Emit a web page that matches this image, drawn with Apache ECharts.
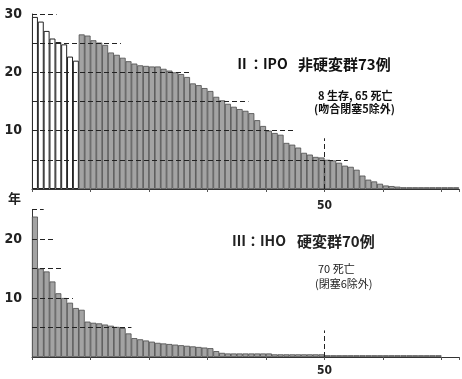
<!DOCTYPE html>
<html><head><meta charset="utf-8">
<script src="https://cdn.jsdelivr.net/npm/echarts@6/dist/echarts.min.js"></script>
<style>html,body{margin:0;padding:0;background:#fff}#c{width:462px;height:379px}</style>
</head><body><div id="c"></div>
<script>
// Panel II: IPO non-cirrhotic group, 73 cases (8 survivors first, white)
const topValues = [29.5,28.7,27.1,25.8,25.2,24.8,22.7,22.0,
  26.5,26.3,25.5,25.1,24.7,23.4,23.0,22.5,21.9,21.5,21.2,21.1,21.0,
  21.0,20.6,20.3,20.0,19.7,19.2,18.1,17.8,17.3,16.8,15.8,15.2,14.6,14.1,13.7,13.4,13.0,11.8,10.8,
  10.0,9.6,9.3,7.9,7.6,7.1,6.2,5.9,5.5,5.4,5.0,4.9,4.5,4.0,3.8,3.3,2.3,1.6,1.3,0.9,0.6,0.5,0.4,0.3,
  0.3,0.3,0.3,0.3,0.3,0.3,0.3,0.3,0.3];
const topSurvivors = 8;
// Panel III: IHO cirrhotic group, 70 cases
const bottomValues = [23.8,15.0,14.5,12.8,10.8,10.0,9.2,8.3,8.0,6.0,5.8,5.7,5.5,5.3,5.1,4.9,4.0,3.2,3.0,2.8,
  2.6,2.4,2.3,2.2,2.1,2.0,1.9,1.8,1.7,1.6,1.5,1.0,0.7,
  0.6,0.6,0.6,0.6,0.6,0.6,0.6,0.6,
  0.45,0.45,0.45,0.45,0.45,0.45,0.45,0.45,0.45,
  0.3,0.3,0.3,0.3,0.3,0.3,0.3,0.3,0.3,0.3,0.3,0.3,0.3,0.3,0.3,0.3,0.3,0.3,0.3,0.3];
const topYTickLabels = ['10','20','30'];
const bottomYTickLabels = ['10','20'];
const xTickLabels = ['50'];
// reference lines: [level, extent along x]
const topRefLines = [[30,4.2],[25,15.2],[20,27],[15,37],[10,44.7],[5,54]];
const topVRef = [50, 8.7];
const bottomRefLines = [[25,2],[20,4],[15,5],[10,7],[5,17]];
const bottomVRef = [50, 4.5];

const numFont = 'Liberation Sans Narrow, DejaVu Sans Condensed, sans-serif';
const cjk = 'Noto Sans CJK JP';

function mk(ref, vref){
  const d = ref.map(r => [{coord:[0,r[0]]},{coord:[r[1],r[0]]}]);
  d.push([{coord:[vref[0],0]},{coord:[vref[0],vref[1]]}]);
  return {symbol:'none', silent:true, label:{show:false}, animation:false,
    lineStyle:{color:'#222', type:[5,3], width:1}, data:d};
}
function xAx(gi, margin){
  return {type:'value', gridIndex:gi, min:0, max:73, interval:10,
    axisLine:{show:true, lineStyle:{color:'#333', width:1}},
    axisTick:{show:true, length:3, lineStyle:{color:'#555'}},
    splitLine:{show:false},
    axisLabel:{fontFamily:numFont, fontWeight:'bold', fontSize:12, color:'#222', margin:margin,
      formatter:v => xTickLabels.includes(String(v)) ? String(v) : ''}};
}
function yAx(gi, max, labels){
  return {type:'value', gridIndex:gi, min:0, max:max, interval:5,
    axisLine:{show:true, lineStyle:{color:'#333', width:1}},
    axisTick:{show:false}, splitLine:{show:false},
    axisLabel:{fontFamily:numFont, fontWeight:'bold', fontSize:14, color:'#222', margin:10,
      formatter:v => labels.includes(String(v)) ? String(v) : ''}};
}
const chart = echarts.init(document.getElementById('c'), null, {renderer:'canvas'});
chart.setOption({
  animation:false,
  backgroundColor:'#fff',
  grid:[{left:32, top:14, width:438, height:175},
        {left:32, top:209.5, width:438, height:147.5}],
  xAxis:[xAx(0,11), xAx(1,8)],
  yAxis:[yAx(0,30,topYTickLabels), yAx(1,25,bottomYTickLabels)],
  series:[
    {type:'bar', xAxisIndex:0, yAxisIndex:0, barWidth:6,
     data: topValues.map((v,i)=>({value:[i+0.5,v],
       itemStyle: i<topSurvivors ? {color:'#fff', borderColor:'#222', borderWidth:1}
                                 : {color:'#a3a3a3', borderColor:'#4a4a4a', borderWidth:0.8}})),
     markLine: mk(topRefLines, topVRef)},
    {type:'bar', xAxisIndex:1, yAxisIndex:1, barWidth:6,
     itemStyle:{color:'#a3a3a3', borderColor:'#4a4a4a', borderWidth:0.8},
     data: bottomValues.map((v,i)=>[i+0.5,v]),
     markLine: mk(bottomRefLines, bottomVRef)}
  ],
  graphic:[
    {type:'text', left:235, top:57, style:{text:'Ⅱ：IPO', font:'bold 14px '+cjk, fill:'#111'}},
    {type:'text', left:298, top:57, style:{text:'非硬変群73例', font:'bold 15px '+cjk, fill:'#111'}},
    {type:'text', left:318, top:90, style:{text:'8 生存, 65 死亡', font:'bold 11px '+cjk, fill:'#111'}},
    {type:'text', left:314, top:103, style:{text:'(吻合閉塞5除外)', font:'bold 11px '+cjk, fill:'#111'}},
    {type:'text', left:232, top:234, style:{text:'Ⅲ：IHO', font:'bold 14px '+cjk, fill:'#222'}},
    {type:'text', left:297, top:234, style:{text:'硬変群70例', font:'bold 15px '+cjk, fill:'#222'}},
    {type:'text', left:318, top:263, style:{text:'70 死亡', font:'11px '+cjk, fill:'#222'}},
    {type:'text', left:315, top:278, style:{text:'(閉塞6除外)', font:'11px '+cjk, fill:'#222'}},
    {type:'text', left:8, top:192, style:{text:'年', font:'bold 13px '+cjk, fill:'#222'}}
  ]
});
</script></body></html>
